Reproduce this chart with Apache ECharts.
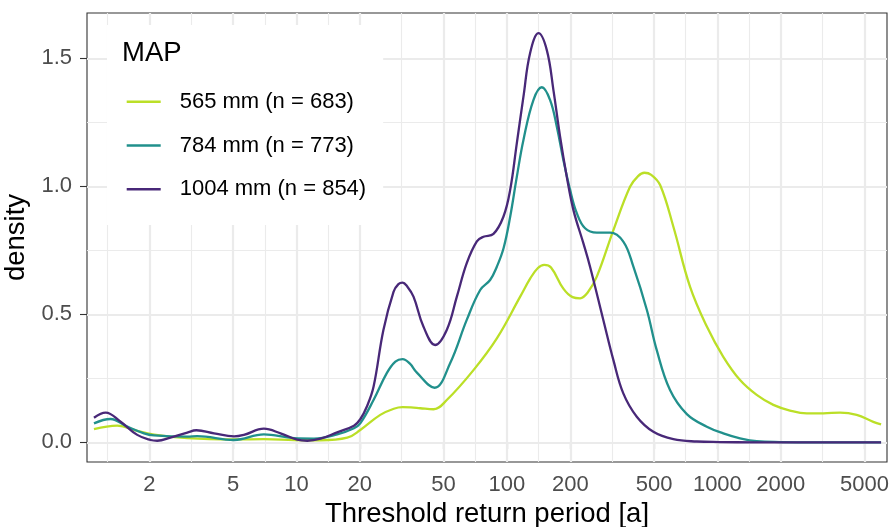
<!DOCTYPE html>
<html><head><meta charset="utf-8">
<script src="https://cdn.jsdelivr.net/npm/echarts@6/dist/echarts.min.js"></script>
<style>html,body{margin:0;padding:0;background:#fff}#c{width:890px;height:527px}</style>
</head><body><div id="c"></div>
<script>
// ---- data ----
const xBreaks = [2, 5, 10, 20, 50, 100, 200, 500, 1000, 2000, 5000];
const yBreaks = [0, 0.5, 1, 1.5];
const seriesNames = ['565 mm (n = 683)', '784 mm (n = 773)', '1004 mm (n = 854)'];
const seriesColors = ['#BBDF27', '#21908C', '#482878'];

const period565 = [1.09, 1.406, 1.75, 2.104, 3.027, 5.047, 6.998, 9.727, 13.0, 17.42, 20.09, 25.0, 29.0, 31.92, 35.0, 38.73, 44.77, 51.76, 69.34, 89.54, 115.6, 129.1, 140.0, 150.3, 162.0, 185.4, 205.0, 222.8, 242.0, 267.3, 320.6, 384.6, 420.0, 449.8, 485.0, 534.6, 618.0, 741.3, 891.3, 1067, 1282, 1538, 1845, 2213, 2661, 3192, 3828, 4592, 5508, 5998];
const density565 = [0.051, 0.065, 0.045, 0.030, 0.016, 0.011, 0.012, 0.009, 0.008, 0.018, 0.048, 0.107, 0.131, 0.137, 0.136, 0.133, 0.129, 0.165, 0.282, 0.406, 0.569, 0.640, 0.680, 0.693, 0.683, 0.600, 0.567, 0.5625, 0.585, 0.647, 0.829, 0.998, 1.040, 1.053, 1.045, 1.005, 0.842, 0.608, 0.452, 0.334, 0.243, 0.185, 0.146, 0.124, 0.113, 0.113, 0.116, 0.107, 0.080, 0.070];

const period784 = [1.09, 1.306, 1.57, 1.884, 2.104, 3.027, 3.373, 5.047, 6.998, 9.727, 12.11, 15.6, 18.75, 20.09, 23.23, 26.85, 29.5, 31.92, 34.5, 37.33, 45.29, 53.7, 64.42, 74.64, 83.18, 89.54, 96.5, 103.6, 111.4, 119.8, 133.6, 146.5, 160.4, 172.6, 185.4, 199.6, 214.8, 235.2, 267.3, 309.0, 357.3, 399.0, 462.4, 515.2, 595.7, 716.1, 891.3, 1067, 1282, 1538, 1995, 3000, 5998];
const density784 = [0.074, 0.091, 0.061, 0.035, 0.027, 0.022, 0.024, 0.009, 0.031, 0.016, 0.0145, 0.031, 0.055, 0.074, 0.165, 0.270, 0.315, 0.325, 0.308, 0.272, 0.213, 0.309, 0.478, 0.595, 0.634, 0.686, 0.760, 0.881, 1.037, 1.181, 1.337, 1.387, 1.337, 1.233, 1.103, 0.986, 0.895, 0.836, 0.819, 0.819, 0.784, 0.686, 0.517, 0.360, 0.204, 0.110, 0.061, 0.035, 0.0156, 0.004, 0.001, 0, 0];

const period1004 = [1.09, 1.239, 1.459, 1.75, 2.023, 2.178, 2.518, 3.027, 3.342, 4.055, 5.047, 5.623, 6.998, 8.395, 10.07, 11.25, 13.0, 15.6, 18.75, 20.09, 21.6, 23.23, 25.88, 28.91, 30.5, 31.92, 33.5, 35.97, 40.09, 45.6, 51.76, 57.81, 64.42, 71.94, 77.3, 86.3, 96.2, 103.6, 111.4, 119.8, 128.8, 141.2, 154.7, 166.3, 178.9, 192.5, 207.0, 230.9, 248.3, 287.1, 320.6, 357.3, 414.0, 496.6, 618.0, 798.0, 1023, 1500, 3000, 5998];
const density1004 = [0.096, 0.116, 0.080, 0.029, 0.009, 0.006, 0.018, 0.038, 0.047, 0.035, 0.023, 0.029, 0.053, 0.035, 0.010, 0.006, 0.014, 0.039, 0.065, 0.090, 0.140, 0.217, 0.439, 0.588, 0.618, 0.624, 0.610, 0.569, 0.452, 0.380, 0.439, 0.569, 0.700, 0.785, 0.803, 0.814, 0.881, 0.986, 1.168, 1.350, 1.520, 1.598, 1.532, 1.376, 1.194, 1.037, 0.907, 0.777, 0.686, 0.478, 0.321, 0.191, 0.100, 0.041, 0.012, 0.003, 0.001, 0, 0, 0];

const xMin = 1.01, xMax = 6400;
const yMin = -0.077, yMax = 1.677;

// ---- helpers ----
const FONT = '"Liberation Sans", Arial, Helvetica, sans-serif';
function zip(xs, ys) { return xs.map((x, i) => [x, ys[i]]); }
function minorBreaks(br, lo, hi, tf, inv) {
  const b = br.map(tf);
  const ext = [b[0] - (b[1] - b[0])].concat(b, [b[b.length - 1] + (b[b.length - 1] - b[b.length - 2])]);
  const out = [];
  for (let i = 0; i < ext.length - 1; i++) {
    const v = inv((ext[i] + ext[i + 1]) / 2);
    if (v > lo && v < hi) out.push(v);
  }
  return out;
}
const xMinor = minorBreaks(xBreaks, xMin, xMax, Math.log10, v => Math.pow(10, v));
const yMinor = minorBreaks(yBreaks, yMin, yMax, v => v, v => v);

const gridColor = '#EBEBEB';
const gridLines = []
  .concat(xMinor.map(v => ({ xAxis: v, lineStyle: { width: 1.1, color: gridColor, type: 'solid' } })))
  .concat(yMinor.map(v => ({ yAxis: v, lineStyle: { width: 1.1, color: gridColor, type: 'solid' } })))
  .concat(xBreaks.map(v => ({ xAxis: v, lineStyle: { width: 2.2, color: gridColor, type: 'solid' } })))
  .concat(yBreaks.map(v => ({ yAxis: v, lineStyle: { width: 2.2, color: gridColor, type: 'solid' } })));

const dataX = [period565, period784, period1004];
const dataY = [density565, density784, density1004];

const chart = echarts.init(document.getElementById('c'), null, { renderer: 'canvas' });
chart.setOption({
  animation: false,
  backgroundColor: '#fff',
  textStyle: { fontFamily: FONT },
  title: {
    text: 'MAP', left: 122, top: 39.5, padding: 0,
    textStyle: { fontSize: 27.5, fontWeight: 'normal', color: '#000', fontFamily: FONT }
  },
  legend: {
    data: seriesNames,
    orient: 'vertical', left: 107, top: 25,
    padding: [65.7, 17, 24.7, 19.7],
    backgroundColor: '#fff',
    icon: 'rect', itemWidth: 34, itemHeight: 2.4, itemGap: 21.8,
    selectedMode: false,
    textStyle: { fontSize: 22, color: '#000', fontFamily: FONT, padding: [0, 0, 0, 14] }
  },
  grid: {
    left: 87, top: 13, right: 3, bottom: 65,
    outerBoundsMode: 'none', containLabel: false,
    show: true, borderColor: '#333333', borderWidth: 1.1, backgroundColor: '#fff'
  },
  xAxis: {
    type: 'log', logBase: 10, min: xMin, max: xMax,
    name: 'Threshold return period [a]', nameLocation: 'middle', nameGap: 35.4,
    nameTextStyle: { fontSize: 27.5, color: '#000', fontFamily: FONT },
    axisLine: { show: false },
    axisTick: { show: true, customValues: xBreaks, length: 7, lineStyle: { color: '#333333', width: 1.1 } },
    axisLabel: { customValues: xBreaks, margin: 11.7, fontSize: 22, color: '#4D4D4D', fontFamily: FONT,
      hideOverlap: false, formatter: v => String(+(+v).toPrecision(6)) },
    splitLine: { show: false }, minorSplitLine: { show: false }
  },
  yAxis: {
    type: 'value', min: yMin, max: yMax,
    name: 'density', nameLocation: 'middle', nameGap: 47,
    nameTextStyle: { fontSize: 27.5, color: '#000', fontFamily: FONT },
    axisLine: { show: false },
    axisTick: { show: true, customValues: yBreaks, length: 7, lineStyle: { color: '#333333', width: 1.1 } },
    axisLabel: { customValues: yBreaks, margin: 15, fontSize: 22, color: '#4D4D4D', fontFamily: FONT,
      formatter: v => (+v).toFixed(1) },
    splitLine: { show: false }
  },
  series: [
    {
      name: '__grid', type: 'line', data: [], silent: true, z: 1,
      markLine: { silent: true, z: 1, symbol: ['none', 'none'], label: { show: false },
        emphasis: { disabled: true }, animation: false, data: gridLines }
    }
  ].concat(seriesNames.map((n, i) => ({
    name: n, type: 'line', z: 3 + i,
    data: zip(dataX[i], dataY[i]),
    showSymbol: false, smooth: 0.4, silent: true,
    color: seriesColors[i],
    lineStyle: { width: 2.3, color: seriesColors[i] }
  })))
});
</script>
</body></html>
